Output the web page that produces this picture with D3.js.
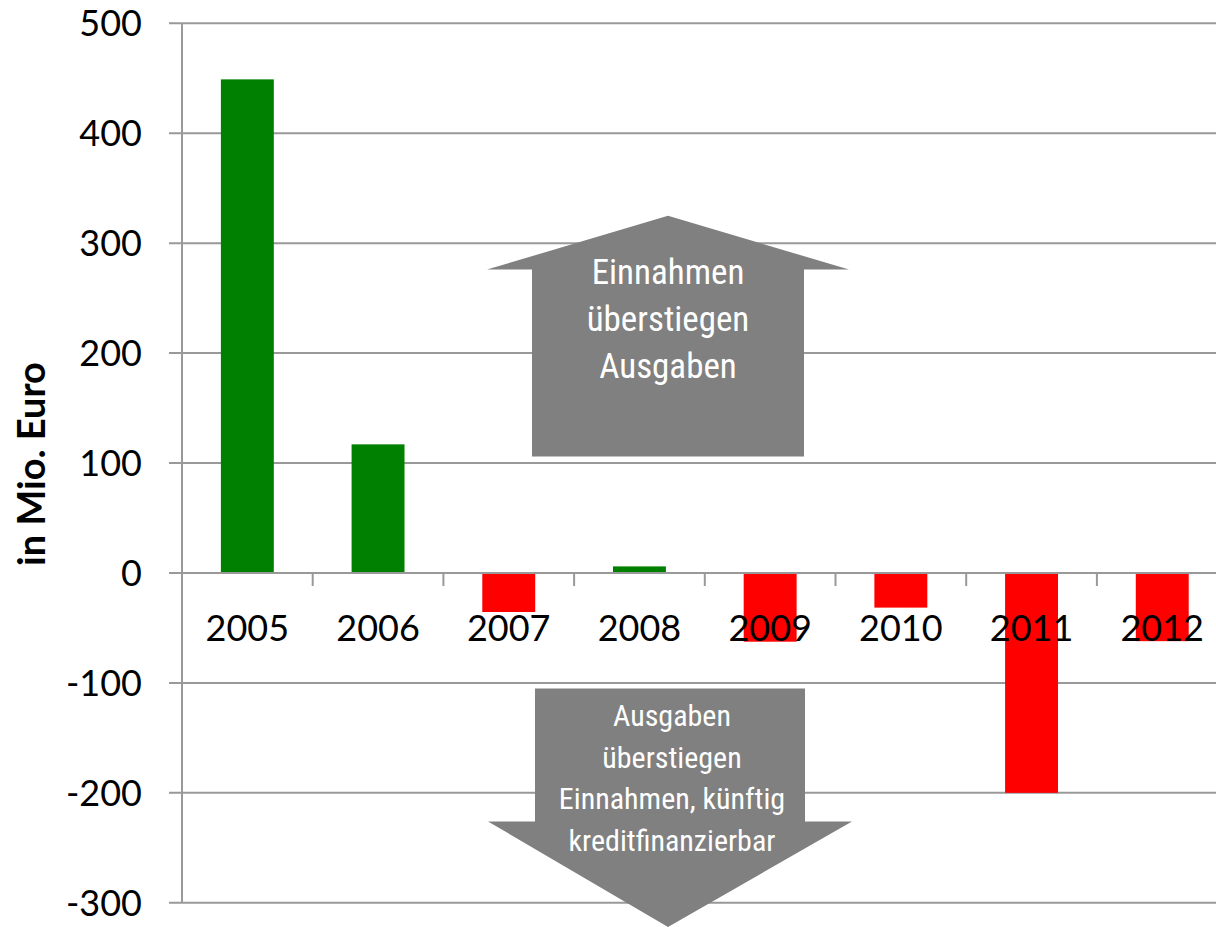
<!DOCTYPE html>
<html>
<head>
<meta charset="utf-8">
<script src="https://cdn.jsdelivr.net/npm/d3@7"></script>
<style>
  html, body { margin: 0; padding: 0; background: #fff; overflow: hidden; }
  svg { display: block; }
</style>
</head>
<body>
<svg id="chart" width="1216" height="927"></svg>
<script>
// ---- data ----
const years = ["2005", "2006", "2007", "2008", "2009", "2010", "2011", "2012"];
const balance = [449, 117, -35.5, 6, -62.5, -31.5, -200, -62];
const yTicks = [-300, -200, -100, 0, 100, 200, 300, 400, 500];
const upLabel = ["Einnahmen", "überstiegen", "Ausgaben"];
const downLabel = ["Ausgaben", "überstiegen", "Einnahmen, künftig", "kreditfinanzierbar"];
const yTitle = "in Mio. Euro";

// ---- layout ----
const svg = d3.select("#chart");
const plotLeft = 182, plotTop = 23.3, plotBottom = 902.8;
const step = 130.7;
const plotRight = plotLeft + step * years.length;

const x = d3.scaleBand().domain(years).range([plotLeft, plotRight])
  .paddingInner(0.595).paddingOuter(0.2975);
const y = d3.scaleLinear().domain([-300, 500]).range([plotBottom, plotTop]);

const gridColor = "#999999";
const tickFont = "Lato, 'Open Sans', sans-serif";

// gridlines with outward ticks
svg.append("g").selectAll("line").data(yTicks).join("line")
  .attr("x1", plotLeft - 13).attr("x2", 1216)
  .attr("y1", d => y(d)).attr("y2", d => y(d))
  .attr("stroke", gridColor).attr("stroke-width", 2);

// y axis line
svg.append("line")
  .attr("x1", plotLeft).attr("x2", plotLeft)
  .attr("y1", y(500)).attr("y2", y(-300))
  .attr("stroke", gridColor).attr("stroke-width", 2);

// y tick labels
svg.append("g").selectAll("text").data(yTicks).join("text")
  .attr("x", 142).attr("y", d => y(d))
  .attr("dy", "0.36em")
  .attr("text-anchor", "end")
  .attr("font-family", tickFont).attr("font-size", 36)
  .attr("fill", "#000")
  .text(d => d);

// annotation arrows
const gray = "#808080";
const upArrow = [[532, y(106)], [532, y(276)], [487, y(276)], [668, y(325)], [849, y(276)], [804, y(276)], [804, y(106)]];
const downArrow = [[535, y(-105)], [805, y(-105)], [805, y(-226)], [852, y(-226)], [668, y(-322)], [488, y(-226)], [535, y(-226)]];
svg.append("path").attr("d", d3.line()(upArrow) + "Z").attr("fill", gray);
svg.append("path").attr("d", d3.line()(downArrow) + "Z").attr("fill", gray);

const narrow = "'Liberation Sans Narrow', 'Arial Narrow', 'Roboto Condensed', sans-serif";
svg.append("text")
  .attr("text-anchor", "middle")
  .attr("font-family", narrow).attr("font-size", 35).attr("fill", "#fff")
  .selectAll("tspan").data(upLabel).join("tspan")
  .attr("x", 668).attr("y", (d, i) => 284 + i * 47)
  .text(d => d);

svg.append("text")
  .attr("text-anchor", "middle")
  .attr("font-family", narrow).attr("font-size", 30).attr("fill", "#fff")
  .selectAll("tspan").data(downLabel).join("tspan")
  .attr("x", 672).attr("y", (d, i) => 726 + i * 41.7)
  .text(d => d);

// bars
svg.append("g").selectAll("rect").data(balance).join("rect")
  .attr("x", (d, i) => x(years[i]))
  .attr("width", x.bandwidth())
  .attr("y", d => y(Math.max(0, d)))
  .attr("height", d => Math.abs(y(d) - y(0)))
  .attr("fill", d => d >= 0 ? "#008000" : "#ff0000");

// zero axis line + category ticks
svg.append("line")
  .attr("x1", plotLeft - 13).attr("x2", 1216)
  .attr("y1", y(0)).attr("y2", y(0))
  .attr("stroke", gridColor).attr("stroke-width", 2);
const bounds = d3.range(years.length + 1).map(i => plotLeft + i * step);
svg.append("g").selectAll("line").data(bounds).join("line")
  .attr("x1", d => d).attr("x2", d => d)
  .attr("y1", y(0)).attr("y2", y(0) + 13)
  .attr("stroke", gridColor).attr("stroke-width", 2);

// x labels (drawn over bars)
svg.append("g").selectAll("text").data(years).join("text")
  .attr("x", d => x(d) + x.bandwidth() / 2)
  .attr("y", 641)
  .attr("text-anchor", "middle")
  .attr("font-family", tickFont).attr("font-size", 36)
  .attr("fill", "#000")
  .text(d => d);

// y-axis title
svg.append("text")
  .attr("transform", `translate(45, 464) rotate(-90)`)
  .attr("text-anchor", "middle")
  .attr("font-family", tickFont).attr("font-weight", "bold").attr("font-size", 38)
  .attr("fill", "#000")
  .text(yTitle);
</script>
</body>
</html>
